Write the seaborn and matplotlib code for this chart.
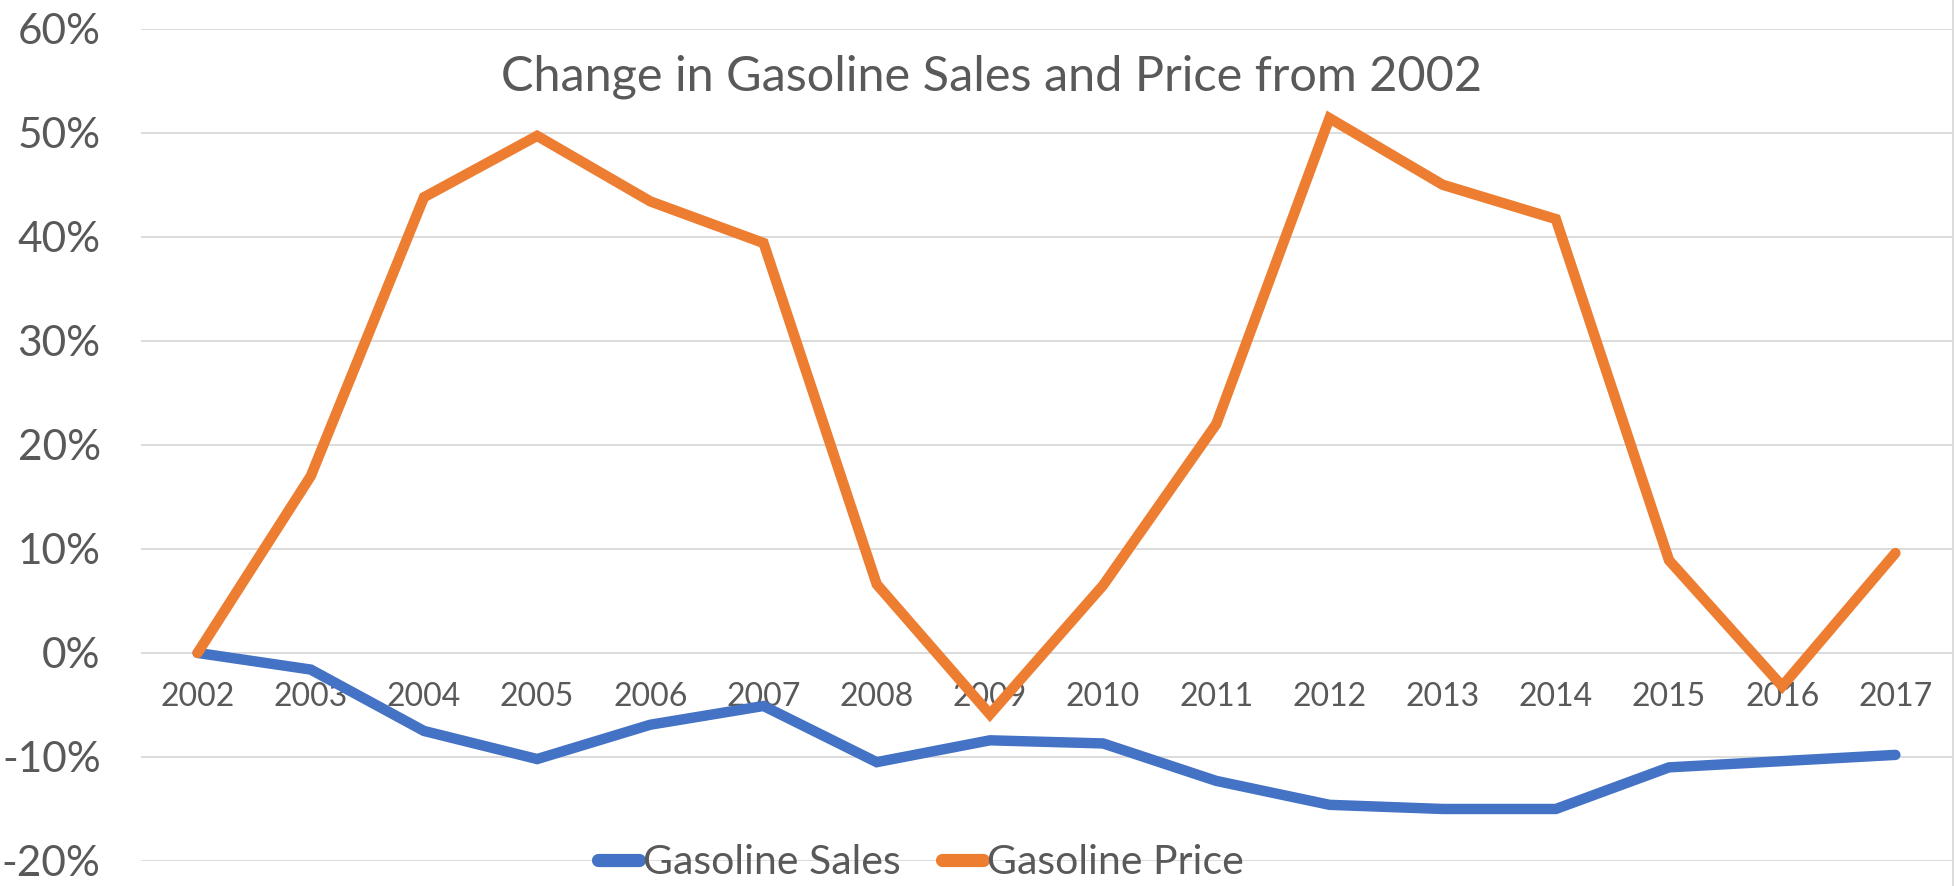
import pandas as pd
import matplotlib
matplotlib.use('Agg')
import matplotlib.pyplot as plt
import seaborn as sns
from matplotlib.ticker import PercentFormatter

# Данные (изменение относительно 2002 года, %)
years = list(range(2002, 2018))
gasoline_sales = [0, -1.6, -7.5, -10.2, -6.9, -5.1, -10.5, -8.4, -8.7, -12.3,
                  -14.6, -15.0, -15.0, -11.0, -10.4, -9.8]
gasoline_price = [0, 17.0, 43.8, 49.7, 43.4, 39.4, 6.6, -5.9, 6.5, 22.0,
                  51.4, 45.0, 41.7, 8.9, -3.2, 9.6]
series_names = ['Gasoline Sales', 'Gasoline Price']
series_colors = ['#4472C4', '#ED7D31']

df = pd.DataFrame({
    'Year': years * 2,
    'Change': gasoline_sales + gasoline_price,
    'Series': [series_names[0]] * len(years) + [series_names[1]] * len(years),
})

sns.set_theme(style='white')
plt.rcParams['font.family'] = ['Lato', 'DejaVu Sans']
plt.rcParams['axes.unicode_minus'] = False
text_color = '#595959'

fig = plt.figure(figsize=(19.54, 8.86), dpi=100)
ax = fig.add_axes([141 / 1954, 1 - 861 / 886, (1952 - 141) / 1954, (861 - 28.7) / 886])

sns.lineplot(data=df, x='Year', y='Change', hue='Series', palette=series_colors,
             linewidth=7.5, ax=ax, legend=False, solid_capstyle='round',
             solid_joinstyle='miter')

ax.set_xlim(2001.5, 2017.5)
ax.set_ylim(-20, 60)
ax.set_yticks(range(-20, 61, 10))
ax.yaxis.set_major_formatter(PercentFormatter(decimals=0))
ax.set_xticks(years)
ax.set_xticklabels([str(y) for y in years])
ax.set_xlabel('')
ax.set_ylabel('')

# Горизонтальная сетка
ax.grid(True, axis='y', color='#D9D9D9', linewidth=1.3)
ax.set_axisbelow(True)
for side in ['top', 'right', 'left']:
    ax.spines[side].set_visible(False)
ax.spines['bottom'].set_position(('data', 0))
ax.spines['bottom'].set_visible(False)

ax.tick_params(axis='y', labelsize=30.5, colors=text_color, length=0, pad=29)
ax.tick_params(axis='x', labelsize=23, colors=text_color, length=0, pad=21)

fig.text(992 / 1954, 1 - 77 / 886, 'Change in Gasoline Sales and Price from 2002',
         ha='center', va='center', fontsize=35, color=text_color)

# Рамка области диаграммы справа
fig.add_artist(plt.Line2D([1952.5 / 1954, 1952.5 / 1954], [0, 1], transform=fig.transFigure,
                          color='#D9D9D9', linewidth=1.3))

handles = [plt.Line2D([], [], color=c, linewidth=9.5, solid_capstyle='round') for c in series_colors]
leg = ax.legend(handles, series_names, loc='center', ncol=2, frameon=False,
                bbox_to_anchor=(921 / 1954, 1 - 863 / 886), bbox_transform=fig.transFigure,
                fontsize=29.5, handlelength=1.0, handletextpad=0.1, columnspacing=1.0,
                borderaxespad=0, borderpad=0)
for t in leg.get_texts():
    t.set_color(text_color)

fig.savefig('out.png', dpi=100)
